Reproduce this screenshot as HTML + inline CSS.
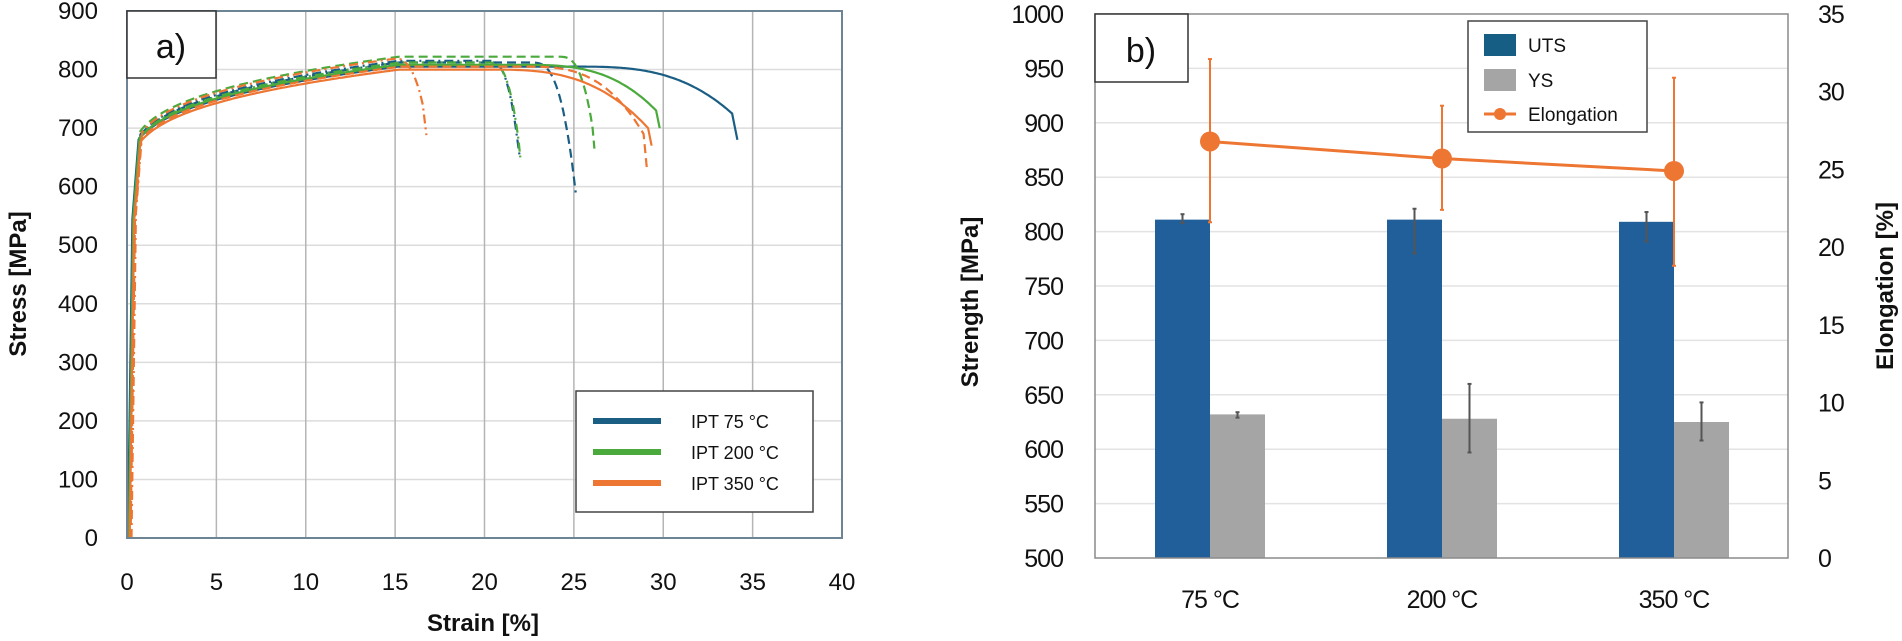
<!DOCTYPE html>
<html><head><meta charset="utf-8"><style>
html,body{margin:0;padding:0;background:#fff;}
svg{display:block;font-family:"Liberation Sans",sans-serif;}
</style></head><body>
<svg id="s" width="1902" height="641" viewBox="0 0 1902 641" xmlns="http://www.w3.org/2000/svg">
<rect width="1902" height="641" fill="#fff"/>
<g id="A"></g>
<g id="B"></g>
</svg>
<script>
const NS="http://www.w3.org/2000/svg";
function el(p,tag,attrs,txt){const e=document.createElementNS(NS,tag);for(const k in attrs)e.setAttribute(k,attrs[k]);if(txt!==undefined)e.textContent=txt;p.appendChild(e);return e;}
// ---------- Panel A ----------
const A=document.getElementById('A');
const ax0=127,ax1=842,ay0=538,ay1=11;
const X=s=>ax0+(ax1-ax0)*s/40, Y=v=>ay0-(ay0-ay1)*v/900;
for(let v=100;v<=900;v+=100) el(A,'line',{x1:ax0,x2:ax1,y1:Y(v),y2:Y(v),stroke:'#dcdcdc','stroke-width':1.5});
for(let s=5;s<=40;s+=5) el(A,'line',{x1:X(s),x2:X(s),y1:ay0,y2:ay1,stroke:'#b5b5b5','stroke-width':1.5});
for(let v=0;v<=900;v+=100) el(A,'text',{x:98,y:Y(v)+8,'text-anchor':'end','font-size':24,fill:'#111'},v);
for(let s=0;s<=40;s+=5) el(A,'text',{x:X(s),y:590,'text-anchor':'middle','font-size':24,fill:'#111'},s);
el(A,'text',{x:483,y:631,'text-anchor':'middle','font-size':24,'font-weight':'bold',fill:'#111'},'Strain [%]');
el(A,'text',{x:0,y:0,transform:'translate(26,284) rotate(-90)','text-anchor':'middle','font-size':24,'font-weight':'bold',fill:'#111'},'Stress [MPa]');
function h(e){return e<15?600+90*Math.pow(e,0.296):801;}
const C={b:'#1b5e84',g:'#4aaa3c',o:'#ee7633'};
const D={s:'',d:'9,5',dd:'9,4,2,4'};
const curves=[
['b','s',805,25,33.8,725,34.1,680],
['b','d',812,22.5,24.8,640,25,590],
['b','dd',815,20,21.6,700,21.8,655],
['g','s',808,22,29.5,730,29.7,700],
['g','d',822,24,25.9,700,26,665],
['g','dd',812,20,21.7,680,21.8,650],
['o','s',800,20,29,700,29.2,670],
['o','d',805,22,28.7,690,28.9,625],
['o','dd',820,14.5,16.3,740,16.5,688]];
curves.forEach(c=>{const [col,ds,U,en,ef,sf,fx,fy]=c;const sc=U/801;const off=(col==='b'?0.05:col==='g'?0.1:0.15)+(ds==='d'?0.05:ds==='dd'?0.1:0);
 let pts=[[X(off),Y(0)]];
 const ey=0.6;
 pts.push([X(off+0.25),Y(h(ey)*sc*0.8)]);
 const bef=h(ef)*sc;
 for(let e=ey;e<=ef+1e-6;e+=0.1){let v=h(e)*sc;if(e>en){const t=(e-en)/(ef-en);v=v-(bef-sf)*Math.pow(t,3);}pts.push([X(e+off),Y(v)]);}
 pts.push([X(fx+off),Y(fy)]);
 el(A,'polyline',{points:pts.map(p=>p[0].toFixed(1)+','+p[1].toFixed(1)).join(' '),fill:'none',stroke:C[col],'stroke-width':2.2,'stroke-dasharray':D[ds]});
});
el(A,'rect',{x:ax0,y:ay1,width:ax1-ax0,height:ay0-ay1,fill:'none',stroke:'#6c8494','stroke-width':2});
el(A,'rect',{x:ax0,y:ay1,width:89,height:67,fill:'#fff',stroke:'#333','stroke-width':1.5});
el(A,'text',{x:171,y:58,'text-anchor':'middle','font-size':34,fill:'#111'},'a)');
el(A,'rect',{x:576,y:391,width:237,height:121,fill:'#fff',stroke:'#444','stroke-width':1.5});
[['b','IPT 75 °C',421],['g','IPT 200 °C',452],['o','IPT 350 °C',483]].forEach(r=>{
 el(A,'line',{x1:593,x2:661,y1:r[2],y2:r[2],stroke:C[r[0]],'stroke-width':6});
 el(A,'text',{x:691,y:r[2]+7,'font-size':18,fill:'#111'},r[1]);});
// ---------- Panel B ----------
const B=document.getElementById('B');
const bx0=1095,bx1=1788,by0=558,by1=14;
const YL=v=>by0-(by0-by1)*(v-500)/500, YR=v=>by0-(by0-by1)*v/35;
for(let v=550;v<=950;v+=50) el(B,'line',{x1:bx0,x2:bx1,y1:YL(v),y2:YL(v),stroke:'#e3e3e3','stroke-width':1.5});
for(let v=500;v<=1000;v+=50) el(B,'text',{x:1063,y:YL(v)+9,'text-anchor':'end','font-size':25,fill:'#111','letter-spacing':'-1'},v);
for(let v=0;v<=35;v+=5) el(B,'text',{x:1818,y:YR(v)+9,'font-size':25,fill:'#111','letter-spacing':'-1'},v);
el(B,'text',{x:0,y:0,transform:'translate(978,302) rotate(-90)','text-anchor':'middle','font-size':24,'font-weight':'bold',fill:'#111'},'Strength [MPa]');
el(B,'text',{x:0,y:0,transform:'translate(1893,286) rotate(-90)','text-anchor':'middle','font-size':24,'font-weight':'bold',fill:'#111'},'Elongation [%]');
const cats=[1210,1442,1674],lab=['75 °C','200 °C','350 °C'];
const uts=[[811,816,808],[811,821,780],[809,818,791]], ys=[[632,634,629],[628,660,597],[625,643,608]];
const elo=[[26.8,32.1,21.6],[25.7,29.1,22.4],[24.9,30.9,18.8]];
cats.forEach((cx,i)=>{
 el(B,'rect',{x:cx-55,y:YL(uts[i][0]),width:55,height:by0-YL(uts[i][0]),fill:'#215f9a'});
 el(B,'rect',{x:cx,y:YL(ys[i][0]),width:55,height:by0-YL(ys[i][0]),fill:'#a5a5a5'});
 [[cx-27.5,uts[i]],[cx+27.5,ys[i]]].forEach(q=>{const x=q[0],a=YL(q[1][1]),b=YL(q[1][2]);
  el(B,'line',{x1:x,x2:x,y1:a,y2:b,stroke:'#555','stroke-width':2});
  el(B,'line',{x1:x-2,x2:x+2,y1:a,y2:a,stroke:'#555','stroke-width':2});
  el(B,'line',{x1:x-2,x2:x+2,y1:b,y2:b,stroke:'#555','stroke-width':2});});
 el(B,'text',{x:cx,y:608,'text-anchor':'middle','font-size':25,fill:'#111','letter-spacing':'-1'},lab[i]);
});
el(B,'polyline',{points:cats.map((cx,i)=>cx+','+YR(elo[i][0])).join(' '),fill:'none',stroke:'#ee7633','stroke-width':3});
cats.forEach((cx,i)=>{const a=YR(elo[i][1]),b=YR(elo[i][2]);
 el(B,'line',{x1:cx,x2:cx,y1:a,y2:b,stroke:'#ee7633','stroke-width':2});
 el(B,'line',{x1:cx-2,x2:cx+2,y1:a,y2:a,stroke:'#ee7633','stroke-width':2});
 el(B,'line',{x1:cx-2,x2:cx+2,y1:b,y2:b,stroke:'#ee7633','stroke-width':2});
 el(B,'circle',{cx:cx,cy:YR(elo[i][0]),r:10,fill:'#ee7633'});});
el(B,'rect',{x:bx0,y:by1,width:bx1-bx0,height:by0-by1,fill:'none',stroke:'#8a8a8a','stroke-width':1.5});
el(B,'rect',{x:bx0,y:by1,width:93,height:68,fill:'#fff',stroke:'#333','stroke-width':1.5});
el(B,'text',{x:1141,y:62,'text-anchor':'middle','font-size':34,fill:'#111'},'b)');
el(B,'rect',{x:1468,y:21,width:179,height:111,fill:'#fff',stroke:'#444','stroke-width':1.5});
el(B,'rect',{x:1484,y:34,width:32,height:22,fill:'#175e84'});
el(B,'rect',{x:1484,y:69,width:32,height:22,fill:'#a5a5a5'});
el(B,'line',{x1:1484,x2:1516,y1:114,y2:114,stroke:'#ee7633','stroke-width':3});
el(B,'circle',{cx:1500,cy:114,r:6,fill:'#ee7633'});
el(B,'text',{x:1528,y:52,'font-size':19,fill:'#111'},'UTS');
el(B,'text',{x:1528,y:87,'font-size':19,fill:'#111'},'YS');
el(B,'text',{x:1528,y:121,'font-size':19,fill:'#111'},'Elongation');
</script>
</body></html>
